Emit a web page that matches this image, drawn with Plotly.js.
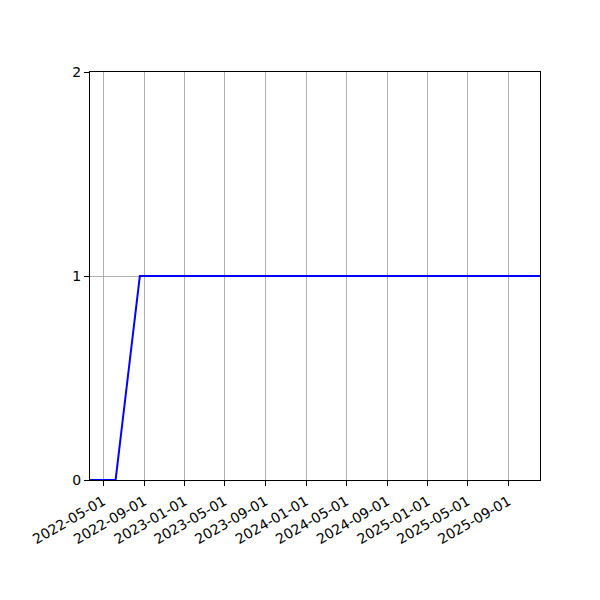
<!DOCTYPE html>
<html>
<head>
<meta charset="utf-8">
<script src="https://cdn.plot.ly/plotly-3.0.1.min.js"></script>
<style>
  html, body { margin: 0; padding: 0; background: #fff; }
  #chart { width: 600px; height: 600px; }
</style>
</head>
<body>
<div id="chart"></div>
<script>
// Values
var dates = ['2022-03-22', '2022-06-07', '2022-08-19', '2025-12-05'];
var counts = [0, 0, 1, 1];
var tick_dates = [
  '2022-05-01', '2022-09-01', '2023-01-01', '2023-05-01', '2023-09-01',
  '2024-01-01', '2024-05-01', '2024-09-01', '2025-01-01', '2025-05-01',
  '2025-09-01'
];
var y_ticks = [0, 1, 2];

var chart_data = [
  {
    x: dates,
    y: counts,
    mode: 'lines',
    line: { color: '#0000ff', width: 2 },
    type: 'scatter',
  },
];

var axis_common = {
  showline: true,
  linecolor: '#000',
  linewidth: 1,
  mirror: true,
  ticks: 'outside',
  ticklen: 5,
  tickwidth: 1,
  tickcolor: '#000',
  showgrid: true,
  gridcolor: '#b0b0b0',
  gridwidth: 1,
  zeroline: false,
  tickfont: { family: 'DejaVu Sans', size: 14, color: '#000' },
};

var chart_layout = {
  width: 600,
  height: 600,
  margin: { l: 90, r: 60, t: 72, b: 120 },
  paper_bgcolor: '#fff',
  plot_bgcolor: '#fff',
  showlegend: false,
  xaxis: Object.assign({}, axis_common, {
    type: 'date',
    range: [dates[0], dates[dates.length - 1]],
    tickmode: 'array',
    tickvals: tick_dates,
    ticktext: tick_dates,
    tickangle: -30,
    ticklabelstandoff: 2,
  }),
  yaxis: Object.assign({}, axis_common, {
    range: [0, 2],
    tickmode: 'array',
    tickvals: y_ticks,
    ticktext: y_ticks.map(String),
  }),
};

Plotly.newPlot('chart', chart_data, chart_layout, { staticPlot: true });
</script>
</body>
</html>
